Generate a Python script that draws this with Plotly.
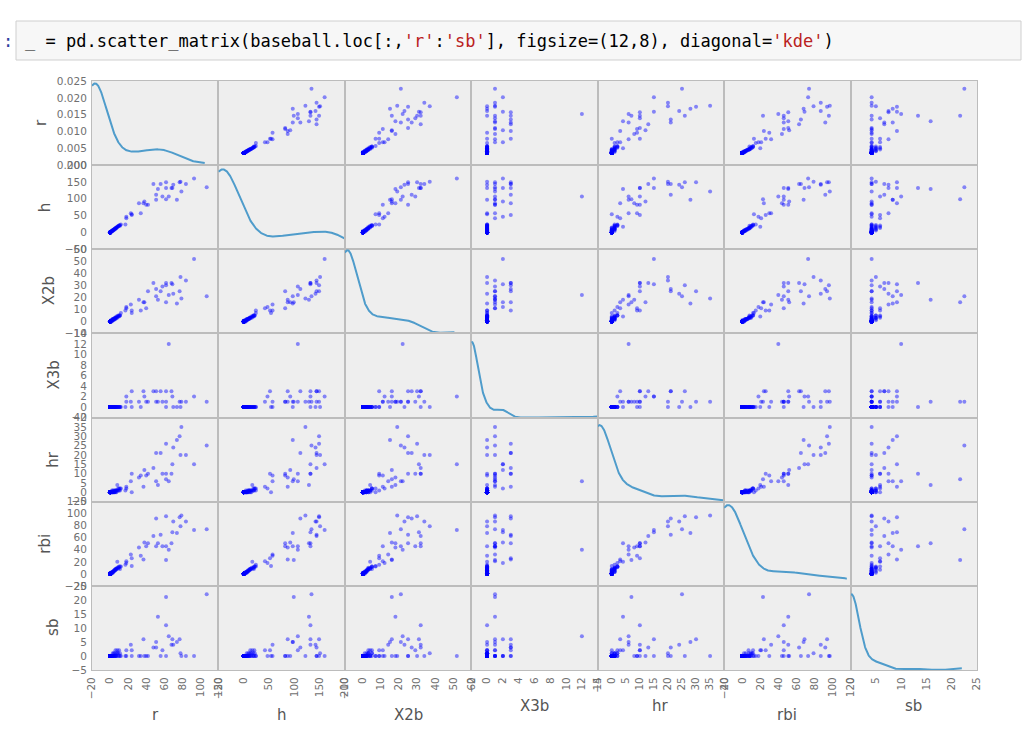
import numpy as np
import plotly.graph_objects as go

# ---------------- data ----------------
columns = ["r", "h", "X2b", "X3b", "hr", "rbi", "sb"]

r = [12, 17, 18, 18, 23, 24, 24, 32, 34, 37, 38, 40, 42, 48, 51, 51, 53, 56, 58, 62, 62, 62, 65, 68, 69, 70, 74, 77, 78, 79, 84, 93, 107,
     0, 0, 1, 1, 1, 1, 2, 2, 2, 2, 3, 3, 3, 3, 4, 4, 4, 5, 5, 5, 6, 6, 6, 7, 7, 7, 8, 8, 9, 9, 10, 10, 11, 11,
     0, 0, 0, 0, 0, 0, 0, 0, 0, 0, 0, 0, 0, 0, 0, 0, 0, 0, 0, 0, 0, 0, 0, 0, 0, 0, 0, 0, 0, 0, 0, 0, 0]
h = [24, 24, 42, 47, 57, 52, 54, 87, 57, 87, 92, 82, 82, 144, 97, 112, 129, 144, 107, 99, 149, 132, 107, 132, 132, 142, 97, 149, 151, 122, 144, 160, 134,
     1, 1, 1, 2, 2, 3, 3, 4, 4, 5, 5, 6, 6, 7, 7, 8, 9, 9, 10, 11, 11, 12, 13, 13, 14, 15, 16, 17, 18, 19, 20, 21, 20, 22,
     0, 0, 0, 0, 0, 0, 0, 0, 0, 0, 0, 0, 0, 0, 0, 0, 0, 0, 0, 0, 0, 0, 0, 0, 0, 0, 0, 0, 0, 0, 0, 0, 0]
X2b = [7, 9, 11, 12, 14, 9, 7, 18, 9, 16, 16, 11, 25, 32, 21, 27, 18, 25, 29, 16, 30, 32, 22, 32, 31, 23, 15, 25, 37, 19, 34, 52, 21,
       0, 0, 0, 0, 1, 0, 1, 0, 1, 1, 1, 1, 2, 2, 1, 2, 2, 2, 2, 3, 2, 3, 3, 3, 3, 4, 3, 4, 4, 5, 4, 5, 5, 5,
       0, 0, 0, 0, 0, 0, 0, 0, 0, 0, 0, 0, 0, 0, 0, 0, 0, 0, 0, 0, 0, 0, 0, 0, 0, 0, 0, 0, 0, 0, 0, 0, 0]
X3b = [0, 0, 1, 2, 1, 3, 0, 1, 0, 3, 2, 1, 1, 3, 1, 3, 1, 3, 1, 1, 3, 0, 12, 3, 2, 0, 0, 1, 0, 1, 1, 2, 1,
       0, 0, 0, 0, 0, 0, 0, 0, 0, 0, 0, 0, 0, 0, 0, 0, 0, 0, 0, 0, 0, 0, 0, 0, 0, 0, 0, 0, 0, 0, 0, 0, 0, 0,
       0, 0, 0, 0, 0, 0, 0, 0, 0, 0, 0, 0, 0, 0, 0, 0, 0, 0, 0, 0, 0, 0, 0, 0, 0, 0, 0, 0, 0, 0, 0, 0, 0]
hr = [2, 1, 3, 2, 6, 10, 0, 8, 9, 3, 12, 9, 10, 13, 6, 21, 4, 21, 10, 7, 26, 10, 6, 10, 15, 24, 28, 30, 20, 35, 20, 15, 25,
      0, 0, 0, 0, 0, 0, 0, 0, 1, 0, 0, 0, 0, 1, 0, 0, 1, 0, 1, 0, 1, 1, 0, 1, 1, 0, 1, 4, 1, 2, 1, 2, 1, 2,
      0, 0, 0, 0, 0, 0, 0, 0, 0, 0, 0, 0, 0, 0, 0, 0, 0, 0, 0, 0, 0, 0, 0, 0, 0, 0, 0, 0, 0, 0, 0, 0, 0]
rbi = [12, 15, 21, 18, 32, 26, 13, 44, 30, 24, 52, 46, 51, 63, 46, 92, 51, 65, 46, 23, 96, 46, 40, 51, 69, 87, 68, 94, 79, 97, 87, 73, 74,
       0, 1, 0, 1, 0, 2, 1, 2, 3, 2, 3, 2, 4, 3, 4, 5, 4, 6, 5, 7, 6, 8, 7, 8, 9, 8, 10, 20, 9, 11, 10, 12, 8, 12,
       0, 0, 0, 0, 0, 0, 0, 0, 0, 0, 0, 0, 0, 0, 0, 0, 0, 0, 0, 0, 0, 0, 0, 0, 0, 0, 0, 0, 0, 0, 0, 0, 0]
sb = [0, 0, 2, 0, 4, 2, 0, 0, 0, 6, 0, 0, 0, 3, 5, 3, 14, 0, 2, 21, 0, 11, 7, 4, 6, 4, 5, 6, 1, 0, 0, 0, 22,
      0, 0, 0, 0, 0, 0, 0, 0, 0, 0, 0, 1, 0, 0, 0, 0, 1, 0, 0, 1, 0, 0, 2, 0, 1, 0, 1, 2, 0, 1, 0, 2, 0, 1,
      0, 0, 0, 0, 0, 0, 0, 0, 0, 0, 0, 0, 0, 0, 0, 0, 0, 0, 0, 0, 0, 0, 0, 0, 0, 0, 0, 0, 0, 0, 0, 0, 0]

values = {"r": r, "h": h, "X2b": X2b, "X3b": X3b, "hr": hr, "rbi": rbi, "sb": sb}

# axis ticks (scatter panels)
ticks = {
    "r": [-20, 0, 20, 40, 60, 80, 100, 120],
    "h": [-50, 0, 50, 100, 150, 200],
    "X2b": [-10, 0, 10, 20, 30, 40, 50, 60],
    "X3b": [-2, 0, 2, 4, 6, 8, 10, 12, 14],
    "hr": [-5, 0, 5, 10, 15, 20, 25, 30, 35, 40],
    "rbi": [-20, 0, 20, 40, 60, 80, 100, 120],
    "sb": [-5, 0, 5, 10, 15, 20, 25],
}
# diagonal (kde) x ranges
diag_x_ticks = {
    "r": [0, 20, 40, 60, 80, 100, 120],
    "h": [0, 40, 80, 120, 160],
    "X2b": [0, 10, 20, 30, 40, 50, 60],
    "X3b": [0, 2, 4, 6, 8, 10, 12],
    "hr": [0, 5, 10, 15, 20, 25, 30, 35],
    "rbi": [0, 20, 40, 60, 80, 100],
    "sb": [0, 5, 10, 15, 20, 25],
}
density_ticks_r = [0.000, 0.005, 0.010, 0.015, 0.020, 0.025]
# gap above the kde peak (fraction of panel height)
diag_top_gap = {"h": 0.05, "X2b": 0.01, "X3b": 0.10, "hr": 0.09, "rbi": 0.04, "sb": 0.10}

# ---------------- layout constants ----------------
W, H = 1024, 750
L, R, T, B = 92, 977, 81, 670
n = len(columns)

def px2x(px):
    return (px - L) / (R - L)

def py2y(py):
    return (B - py) / (B - T)

TICK_FONT = dict(family="DejaVu Sans", size=10.5, color="#707070")
TITLE_FONT = dict(family="DejaVu Sans", size=15, color="#555555")
SPINE = "#bcbcbc"


def kde(data, grid):
    d = np.asarray(data, dtype=float)
    bw = d.std(ddof=1) * len(d) ** (-1.0 / 5.0)
    z = (grid[:, None] - d[None, :]) / bw
    return np.exp(-0.5 * z ** 2).sum(axis=1) / (len(d) * bw * np.sqrt(2 * np.pi))


fig = go.Figure()
layout = {}

for i, yname in enumerate(columns):
    for j, xname in enumerate(columns):
        k = i * n + j + 1
        xa = "x" if k == 1 else f"x{k}"
        ya = "y" if k == 1 else f"y{k}"
        xkey = "xaxis" if k == 1 else f"xaxis{k}"
        ykey = "yaxis" if k == 1 else f"yaxis{k}"
        dom_x = [j / n, (j + 1) / n]
        dom_y = [1 - (i + 1) / n, 1 - i / n]

        if i == j:
            vals = np.asarray(values[xname], dtype=float)
            grid = np.linspace(vals.min(), vals.max(), 600)
            dens = kde(vals, grid)
            fig.add_trace(go.Scatter(x=grid, y=dens, mode="lines", xaxis=xa, yaxis=ya,
                                     line=dict(color="#4f9ccb", width=2), hoverinfo="skip"))
            xt = diag_x_ticks[xname]
            xrange_ = [xt[0], xt[-1]]
            if xname == "r":
                yrange_ = [0, 0.025]
                ytv = density_ticks_r
            else:
                yrange_ = [0, dens.max() / (1 - diag_top_gap[xname])]
                ytv = None
        else:
            fig.add_trace(go.Scatter(x=values[xname], y=values[yname], mode="markers",
                                     xaxis=xa, yaxis=ya, hoverinfo="skip",
                                     marker=dict(color="rgba(0,0,255,0.45)", size=4, line=dict(width=0))))
            xt = ticks[xname]
            xrange_ = [xt[0], xt[-1]]
            yrange_ = [ticks[yname][0], ticks[yname][-1]]
            ytv = ticks[yname]

        ex = (xrange_[1] - xrange_[0]) * 1e-6
        ey = (yrange_[1] - yrange_[0]) * 1e-6
        show_x = (i == n - 1)
        show_y = (j == 0)
        layout[xkey] = dict(domain=dom_x, anchor=ya, range=[xrange_[0] - ex, xrange_[1] + ex],
                            showgrid=False, zeroline=False, showline=True, mirror=True,
                            linecolor=SPINE, linewidth=1, ticks="",
                            showticklabels=show_x, tickvals=xt, tickangle=-90,
                            tickfont=TICK_FONT, ticklabelstandoff=2)
        ydict = dict(domain=dom_y, anchor=xa, range=[yrange_[0] - ey, yrange_[1] + ey],
                     showgrid=False, zeroline=False, showline=True, mirror=True,
                     linecolor=SPINE, linewidth=1, ticks="",
                     showticklabels=show_y, tickfont=TICK_FONT, ticklabelstandoff=2)
        if ytv is not None:
            ydict["tickvals"] = ytv
        if i == 0 and j == 0:
            ydict["tickformat"] = ".3f"
        layout[ykey] = ydict

# axis titles (annotations)
annotations = []
ylabel_x = {"r": 41, "h": 45, "X2b": 49, "X3b": 53, "hr": 53, "rbi": 45, "sb": 53}
xlabel_y = {"r": 715, "h": 715, "X2b": 715, "X3b": 706, "hr": 706, "rbi": 715, "sb": 706}
col_w = (R - L) / n
row_h = (B - T) / n
for idx, name in enumerate(columns):
    cx = L + (idx + 0.5) * col_w
    cy = T + (idx + 0.5) * row_h
    annotations.append(dict(text=name, x=px2x(cx), y=py2y(xlabel_y[name]), xref="paper", yref="paper",
                            showarrow=False, font=TITLE_FONT, xanchor="center", yanchor="middle"))
    annotations.append(dict(text=name, x=px2x(ylabel_x[name]), y=py2y(cy), xref="paper", yref="paper",
                            showarrow=False, font=TITLE_FONT, textangle=-90, xanchor="center", yanchor="middle"))

# notebook code cell
code_html = ("_ = pd.scatter_matrix(baseball.loc[:,<span style='color:#ba2121'>'r'</span>:"
             "<span style='color:#ba2121'>'sb'</span>], figsize=(12,8), diagonal="
             "<span style='color:#ba2121'>'kde'</span>)")
annotations.append(dict(text=code_html, x=px2x(23), y=py2y(41), xref="paper", yref="paper",
                        showarrow=False, xanchor="left", yanchor="middle",
                        font=dict(family="DejaVu Sans Mono", size=17, color="#000000")))
annotations.append(dict(text=":", x=px2x(1), y=py2y(41), xref="paper", yref="paper",
                        showarrow=False, xanchor="left", yanchor="middle",
                        font=dict(family="DejaVu Sans Mono", size=17, color="#303f9f")))

shapes = [dict(type="rect", xref="paper", yref="paper",
               x0=px2x(16), x1=px2x(1021), y0=py2y(60), y1=py2y(21),
               fillcolor="#f7f7f7", line=dict(color="#cfcfcf", width=1), layer="below")]

fig.update_layout(**layout)
fig.update_layout(width=W, height=H, margin=dict(l=L, r=W - R, t=T, b=H - B, pad=0),
                  paper_bgcolor="white", plot_bgcolor="#eeeeee", showlegend=False,
                  hovermode=False, annotations=annotations, shapes=shapes)

fig.write_html("out.html", config={"displayModeBar": False},
               post_script="document.body.style.margin='0px';document.body.style.overflow='hidden';")
